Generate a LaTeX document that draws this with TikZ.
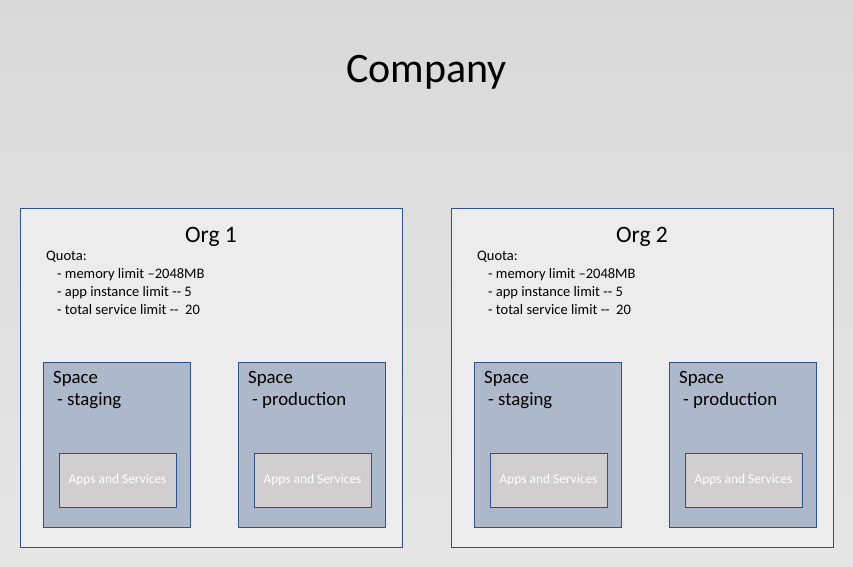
\documentclass[tikz,border=0pt]{standalone}
\usepackage{fontspec}
\setmainfont{Carlito}
\definecolor{bgtop}{HTML}{D9D9D9}
\definecolor{bgbot}{HTML}{E6E6E6}
\definecolor{orgfill}{HTML}{ECECEC}
\definecolor{boxline}{HTML}{2F528F}
\definecolor{spacefill}{HTML}{ADB9CA}
\definecolor{appfill}{HTML}{D0CECE}
\tikzset{
  box/.style={draw=boxline, line width=0.9pt, inner sep=0pt, anchor=north west},
  orgbox/.style={box, fill=orgfill, minimum width=382pt, minimum height=339pt},
  spacebox/.style={box, fill=spacefill, minimum width=147pt, minimum height=165pt},
  appbox/.style={box, fill=appfill, minimum width=117pt, minimum height=54pt},
  quota/.style={anchor=base west, inner sep=0pt, font=\fontsize{14.5}{17}\selectfont},
  orgtitle/.style={anchor=base, inner sep=0pt, font=\fontsize{23.5}{28}\selectfont},
  spacetxt/.style={anchor=base west, inner sep=0pt, font=\fontsize{18.8}{23}\selectfont},
  apptxt/.style={anchor=base, inner sep=0pt, text=white, font=\fontsize{13.4}{16}\selectfont},
}
\begin{document}
\begin{tikzpicture}[x=1pt,y=-1pt]
\shade[top color=bgtop, bottom color=bgbot] (0,0) rectangle (853,566);
\useasboundingbox (0,0) rectangle (853,566);
\node[anchor=base, inner sep=0pt, font=\fontsize{42}{50}\selectfont] (title) at (426.5,82) {Company};
% Org boxes
\foreach \o/\x in {1/20, 2/451} {
  \node[orgbox] (org\o) at (\x,208) {};
  \node[orgtitle] (org\o t) at (\x+191,242.5) {Org \o};
  \node[quota] (org\o q0) at (\x+26,260.5) {Quota:};
  \node[quota] (org\o q1) at (\x+37,278.5) {- memory limit –2048MB};
  \node[quota] (org\o q2) at (\x+37,296.5) {- app instance limit -{}- 5};
  \node[quota] (org\o q3) at (\x+37,314.5) {- total service limit -{}-\ \ 20};
  \foreach \s/\dx/\nm in {a/23/staging, b/218/production} {
    \node[spacebox] (sp\o\s) at (\x+\dx,362) {};
    \node[spacetxt] (sp\o\s t1) at (\x+\dx+10,383) {Space};
    \node[spacetxt] (sp\o\s t2) at (\x+\dx+14,405.5) {- \nm};
    \node[appbox] (app\o\s) at (\x+\dx+16,452.5) {};
    \node[apptxt] (app\o\s t) at (\x+\dx+74.5,483) {Apps and Services};
  }
}
\end{tikzpicture}
\end{document}
